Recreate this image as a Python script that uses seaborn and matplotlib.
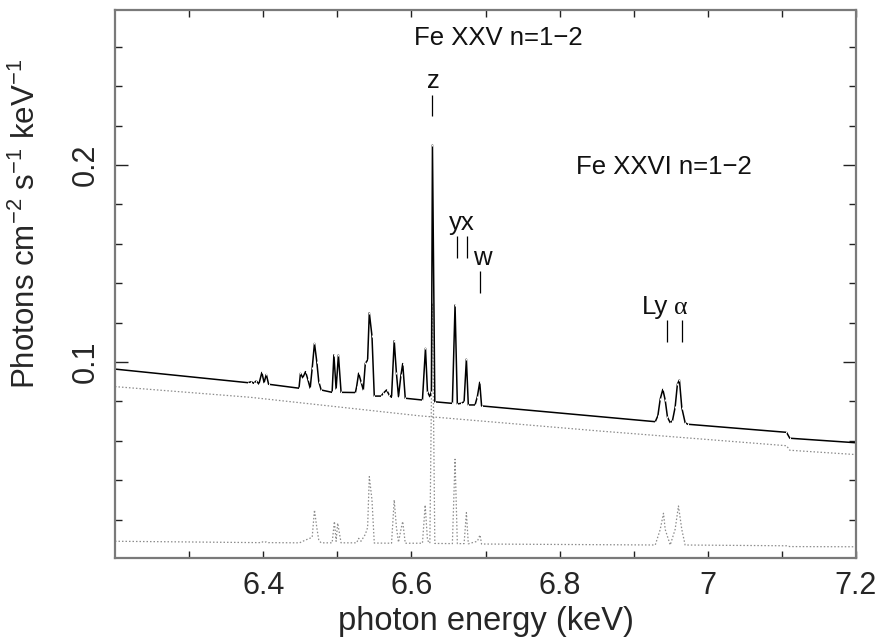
import matplotlib
matplotlib.use("Agg")
import matplotlib.pyplot as plt
import matplotlib.ticker as mticker
import numpy as np
import pandas as pd
import seaborn as sns
from matplotlib import font_manager

# ---------------- data ----------------
# total model spectrum (solid)
total_energy = [6.2000, 6.3794, 6.3840, 6.3871, 6.3907, 6.3942, 6.3982, 6.4012, 6.4042, 6.4073,
                6.4483, 6.4503, 6.4534, 6.4571, 6.4602, 6.4634, 6.4661, 6.4692, 6.4723, 6.4750,
                6.4782, 6.4930, 6.4954, 6.4984, 6.5015, 6.5051, 6.5244, 6.5261, 6.5288, 6.5320,
                6.5351, 6.5378, 6.5409, 6.5432, 6.5468, 6.5499, 6.5590, 6.5620, 6.5665, 6.5701,
                6.5732, 6.5768, 6.5798, 6.5826, 6.5859, 6.5883, 6.5917, 6.6149, 6.6190, 6.6217,
                6.6249, 6.6270, 6.6284, 6.6316, 6.6553, 6.6589, 6.6620, 6.6665, 6.6711, 6.6742,
                6.6768, 6.6859, 6.6890, 6.6922, 6.6947, 6.9291, 6.9326, 6.9358, 6.9393, 6.9425,
                6.9456, 6.9493, 6.9523, 6.9559, 6.9590, 6.9617, 6.9649, 6.9694, 6.9730, 7.1062,
                7.1107, 7.2000]
total_flux = [0.0964, 0.0895, 0.0900, 0.0892, 0.0904, 0.0888, 0.0947, 0.0895, 0.0937, 0.0887,
              0.0867, 0.0943, 0.0920, 0.0951, 0.0912, 0.0867, 0.0968, 0.1095, 0.1002, 0.0900,
              0.0858, 0.0846, 0.1036, 0.0863, 0.1036, 0.0846, 0.0845, 0.0875, 0.0943, 0.0900,
              0.0858, 0.0993, 0.1010, 0.1250, 0.1132, 0.0827, 0.0827, 0.0841, 0.0858, 0.0832,
              0.0821, 0.1108, 0.0943, 0.0824, 0.0934, 0.0992, 0.0816, 0.0807, 0.1070, 0.0849,
              0.0824, 0.0850, 0.2102, 0.0798, 0.0790, 0.1289, 0.0787, 0.0790, 0.0798, 0.1015,
              0.0782, 0.0782, 0.0824, 0.0897, 0.0777, 0.0697, 0.0727, 0.0812, 0.0861, 0.0807,
              0.0719, 0.0692, 0.0702, 0.0770, 0.0888, 0.0909, 0.0768, 0.0692, 0.0684, 0.0643,
              0.0613, 0.0590]

# continuum component (upper dotted)
cont_energy = [6.2000, 6.3822, 6.6105, 6.8528, 7.1062, 7.1107, 7.1960, 7.2000]
cont_flux = [0.0875, 0.0821, 0.0727, 0.0650, 0.0575, 0.0552, 0.0531, 0.0530]

# line-emitting component (lower dotted)
line_energy = [6.2000, 6.3950, 6.3980, 6.4010, 6.4040, 6.4070, 6.4490, 6.4570, 6.4661, 6.4692,
               6.4723, 6.4750, 6.4782, 6.4930, 6.4961, 6.4984, 6.5005, 6.5051, 6.5261, 6.5288,
               6.5320, 6.5378, 6.5409, 6.5432, 6.5468, 6.5499, 6.5732, 6.5768, 6.5798, 6.5826,
               6.5859, 6.5883, 6.5917, 6.6149, 6.6186, 6.6217, 6.6249, 6.6284, 6.6316, 6.6553,
               6.6589, 6.6620, 6.6711, 6.6742, 6.6768, 6.6890, 6.6926, 6.6947, 6.9291, 6.9358,
               6.9402, 6.9425, 6.9493, 6.9559, 6.9604, 6.9649, 6.9694, 7.1062, 7.1107, 7.2000]
line_flux = [0.0090, 0.0083, 0.0088, 0.0083, 0.0087, 0.0083, 0.0082, 0.0096, 0.0110, 0.0249,
             0.0160, 0.0095, 0.0082, 0.0082, 0.0190, 0.0090, 0.0182, 0.0082, 0.0082, 0.0105,
             0.0090, 0.0125, 0.0160, 0.0418, 0.0300, 0.0081, 0.0080, 0.0300, 0.0160, 0.0085,
             0.0150, 0.0190, 0.0080, 0.0080, 0.0274, 0.0095, 0.0080, 0.1298, 0.0079, 0.0078,
             0.0506, 0.0078, 0.0078, 0.0235, 0.0077, 0.0090, 0.0122, 0.0076, 0.0071, 0.0150,
             0.0232, 0.0150, 0.0071, 0.0150, 0.0269, 0.0150, 0.0071, 0.0067, 0.0063, 0.0062]

# line identifications: label, energy, marker y-range
id_labels = ["z", "y", "x", "w", "Ly", "α"]
id_energy = [6.6284, 6.6611, 6.6746, 6.6926, 6.9445, 6.9648]
id_ylow = [0.2249, 0.1528, 0.1528, 0.1350, 0.1102, 0.1102]
id_yhigh = [0.2355, 0.1640, 0.1640, 0.1462, 0.1213, 0.1213]

x_major = [6.4, 6.6, 6.8, 7.0, 7.2]
x_minor = [6.3, 6.5, 6.7, 6.9, 7.1]
y_major = [0.1, 0.2]
y_minor = [0.02, 0.04, 0.06, 0.08, 0.12, 0.14, 0.16, 0.18, 0.22, 0.24, 0.26]

# ---------------- style ----------------
sns.set_theme(style="ticks")
names = {f.name for f in font_manager.fontManager.ttflist}
narrow = "Liberation Sans Narrow" if "Liberation Sans Narrow" in names else "Liberation Sans"
plt.rcParams["font.family"] = [narrow, "DejaVu Sans"]
plt.rcParams["mathtext.fontset"] = "custom"
plt.rcParams["mathtext.rm"] = narrow
plt.rcParams["mathtext.default"] = "regular"

fig = plt.figure(figsize=(8.81, 6.41), dpi=100)
fig.patch.set_facecolor("white")
ax = fig.add_axes([115 / 881, 83 / 641, 741 / 881, 548 / 641])

df_tot = pd.DataFrame({"E": total_energy, "F": total_flux})
df_cont = pd.DataFrame({"E": cont_energy, "F": cont_flux})
df_line = pd.DataFrame({"E": line_energy, "F": line_flux})

sns.lineplot(data=df_cont, x="E", y="F", ax=ax, color="#8c8c8c", lw=0.9,
             linestyle=(0, (1.2, 1.6)), estimator=None, sort=False)
sns.lineplot(data=df_line, x="E", y="F", ax=ax, color="#8c8c8c", lw=0.9,
             linestyle=(0, (1.2, 1.6)), estimator=None, sort=False)
sns.lineplot(data=df_tot, x="E", y="F", ax=ax, color="black", lw=1.1,
             marker="|", markersize=2, markeredgewidth=0.7, estimator=None, sort=False)

ax.vlines(id_energy, id_ylow, id_yhigh, color="black", lw=0.9)

ax.set_xlim(6.2, 7.2)
ax.set_ylim(0.0005, 0.2787)
ax.xaxis.set_major_locator(mticker.FixedLocator(x_major))
ax.xaxis.set_minor_locator(mticker.FixedLocator(x_minor))
ax.yaxis.set_major_locator(mticker.FixedLocator(y_major))
ax.yaxis.set_minor_locator(mticker.FixedLocator(y_minor))
ax.xaxis.set_major_formatter(mticker.FuncFormatter(lambda v, p: "%g" % v))
ax.yaxis.set_major_formatter(mticker.FuncFormatter(lambda v, p: "%g" % v))

ax.tick_params(axis="both", which="both", direction="in", top=True, right=True,
               color="#222222", width=1.0)
ax.tick_params(axis="x", which="both", length=5, labelsize=22, pad=9)
ax.tick_params(axis="y", which="major", length=9.5, labelsize=22, pad=10)
ax.tick_params(axis="y", which="minor", length=5)
for lab in ax.get_yticklabels():
    lab.set_rotation(90)
    lab.set_va("center")

for s in ax.spines.values():
    s.set_color("#7a7a7a")
    s.set_linewidth(1.6)

ax.set_xlabel("photon energy (keV)", fontsize=23.5, labelpad=4)
ax.set_ylabel("Photons cm$^{-2}$ s$^{-1}$ keV$^{-1}$", fontsize=22.5)
ax.yaxis.set_label_coords(-0.099, 0.61)

ann = dict(family=["Liberation Sans", "DejaVu Sans"], fontsize=18.5, color="#111111",
           ha="center", va="baseline")
ax.text(6.7169, 0.2609, "Fe XXV n=1\u22122", **ann)
ax.text(6.9409, 0.1954, "Fe XXVI n=1\u22122", **ann)
ax.text(6.6291, 0.2391, "z", **ann)
ax.text(6.6683, 0.1670, "yx", **ann)
ax.text(6.6953, 0.1492, "w", **ann)
ax.text(6.9287, 0.1244, "Ly", **ann)
ann_a = dict(ann)
ann_a["family"] = ["Liberation Serif", "DejaVu Serif"]
ax.text(6.9636, 0.1244, "α", **ann_a)

fig.savefig("out.png", dpi=100, facecolor="white")
